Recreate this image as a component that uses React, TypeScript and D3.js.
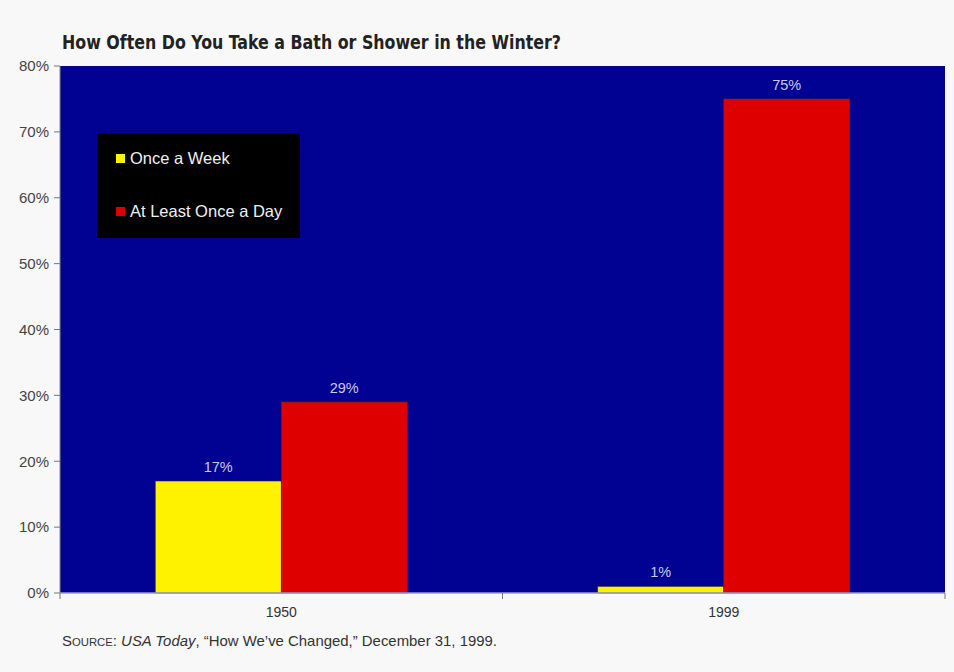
import React from "react";
import * as d3 from "d3";

const categories = ["1950", "1999"];
const seriesNames = ["Once a Week", "At Least Once a Day"];
const onceAWeek = [17, 1];
const onceADay = [29, 75];
const yTicks = [0, 10, 20, 30, 40, 50, 60, 70, 80];
const seriesColors = ["#fff200", "#de0000"];

const W = 954;
const H = 672;
const M = { left: 60, right: 945, top: 66, bottom: 593 };

export default function App() {
  const x = d3.scaleBand<string>().domain(categories).range([M.left, M.right]).paddingInner(0).paddingOuter(0);
  const inner = d3.scaleBand<number>().domain([0, 1]).range([0, x.bandwidth()]).paddingInner(0).paddingOuter(0.756);
  const y = d3.scaleLinear().domain([0, 80]).range([M.bottom, M.top]);
  const series = [onceAWeek, onceADay];
  const font = "'Liberation Sans', Arial, sans-serif";
  const condensed = "'Liberation Sans Narrow', 'DejaVu Sans Condensed', Arial, sans-serif";

  return (
    <svg width={W} height={H} style={{ position: "absolute", left: 0, top: 0, background: "#f8f8f8" }} fontFamily={font}>
      <rect x={0} y={0} width={W} height={H} fill="#f8f8f8" />
      <text x={62} y={49} fontSize={20} fontWeight="bold" fill="#222" fontFamily={condensed} textLength={499} lengthAdjust="spacingAndGlyphs">
        How Often Do You Take a Bath or Shower in the Winter?
      </text>
      <rect x={M.left} y={M.top} width={M.right - M.left} height={M.bottom - M.top} fill="#010192" />
      {/* y axis */}
      <line x1={M.left} x2={M.left} y1={M.top} y2={M.bottom} stroke="#888" />
      {yTicks.map((t) => (
        <g key={t}>
          <line x1={M.left - 6} x2={M.left} y1={y(t)} y2={y(t)} stroke="#777" />
          <text x={M.left - 11} y={y(t)} dy="0.35em" textAnchor="end" fontSize={15} fill="#444">
            {t}%
          </text>
        </g>
      ))}
      {/* bars */}
      {categories.map((c, ci) => (
        <g key={c}>
          {series.map((s, si) => {
            const bx = (x(c) as number) + (inner(si) as number);
            const bw = inner.bandwidth();
            return (
              <g key={si}>
                <rect x={bx} y={y(s[ci])} width={bw} height={y(0) - y(s[ci])} fill={seriesColors[si]} stroke="#333" strokeWidth={0.6} />
                <text x={bx + bw / 2} y={y(s[ci]) - 9} textAnchor="middle" fontSize={14.5} fill="#c9c9f0">
                  {s[ci]}%
                </text>
              </g>
            );
          })}
          <text x={(x(c) as number) + x.bandwidth() / 2} y={617} textAnchor="middle" fontSize={14} fill="#333">
            {c}
          </text>
        </g>
      ))}
      {/* x axis */}
      <line x1={M.left} x2={M.right} y1={M.bottom} y2={M.bottom} stroke="#9a9ac8" strokeWidth={1.5} />
      {[M.left, (x(categories[1]) as number), M.right].map((tx, i) => (
        <line key={i} x1={tx} x2={tx} y1={M.bottom} y2={M.bottom + 6} stroke="#777" />
      ))}
      {/* legend */}
      <rect x={97} y={133} width={203} height={105} fill="#000" />
      {seriesNames.map((n, i) => (
        <g key={n}>
          <rect x={116} y={154 + i * 53} width={9} height={9} fill={seriesColors[i]} />
          <text x={130} y={164 + i * 53} fontSize={16.5} fill="#f0f0f0">
            {n}
          </text>
        </g>
      ))}
      {/* source */}
      <text x={62} y={646} fontSize={14.5} fill="#333" textLength={435} lengthAdjust="spacingAndGlyphs">
        <tspan>S</tspan>
        <tspan fontSize={11}>OURCE</tspan>
        <tspan>: </tspan>
        <tspan fontStyle="italic">USA Today</tspan>
        <tspan>, “How We’ve Changed,” December 31, 1999.</tspan>
      </text>
    </svg>
  );
}
